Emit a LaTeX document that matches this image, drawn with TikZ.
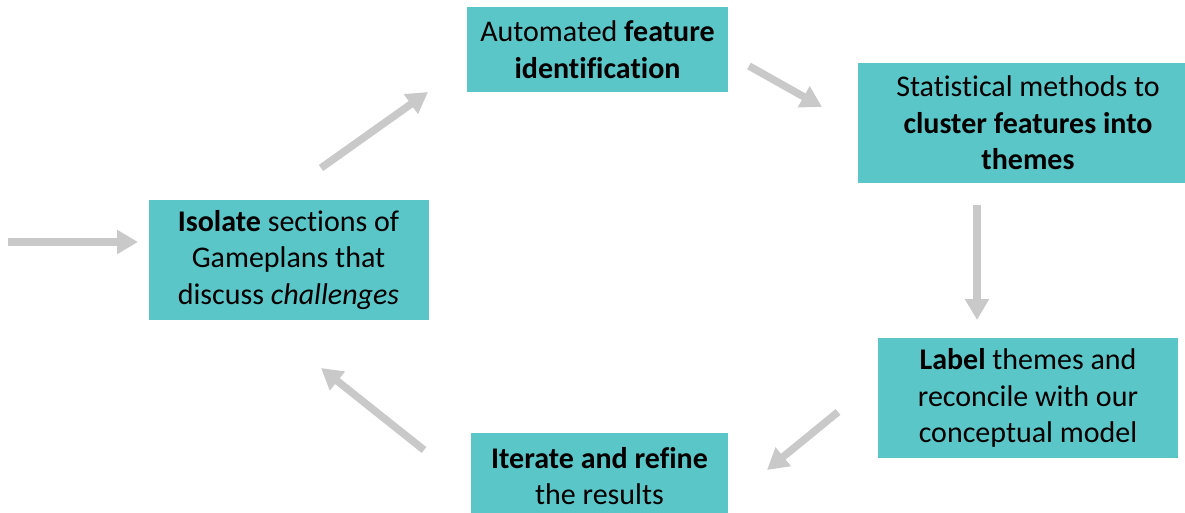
\documentclass[tikz,border=0pt]{standalone}
\usepackage{fontspec}
\setmainfont{Carlito}[Ligatures=NoCommon]
\usetikzlibrary{arrows.meta}
\definecolor{teal1}{HTML}{5BC6C8}
\definecolor{arrgray}{HTML}{C9C9C9}
\tikzset{
  box/.style={fill=teal1, draw=none, inner sep=0pt, align=center,
    font=\fontsize{30}{36.5}\selectfont, text=black},
  arr/.style={draw=arrgray, line width=7.5pt,
    -{Triangle[width=23pt,length=21pt]}}
}
\begin{document}
\begin{tikzpicture}[x=1pt,y=-1pt]
\useasboundingbox (0,0) rectangle (1185,513);
\node[box, minimum width=280pt, minimum height=120pt] (b1) at (288.5,260)
  {\textbf{Isolate} sections of\\Gameplans that\\discuss \textit{challenges}};
\node[box, minimum width=261pt, minimum height=85pt] (b2) at (597.5,49.5)
  {Automated \textbf{feature}\\\textbf{identification}};
\node[box, minimum width=340pt, minimum height=120pt] (b3) at (1028,123)
  {Statistical methods to\\\textbf{cluster features into}\\\textbf{themes}};
\node[box, minimum width=300pt, minimum height=120pt] (b4) at (1028,398)
  {\textbf{Label} themes and\\reconcile with our\\conceptual model};
\node[box, minimum width=257pt, minimum height=86pt] (b5) at (599.5,476)
  {\textbf{Iterate and refine}\\the results};
% connector end points
\coordinate (s0) at (8,242);   \coordinate (e0) at (138,242);
\coordinate (s1) at (321,168); \coordinate (e1) at (428,92);
\coordinate (s2) at (749,66);  \coordinate (e2) at (822,107);
\coordinate (s3) at (977,205); \coordinate (e3) at (977,320);
\coordinate (s4) at (838,412); \coordinate (e4) at (767,470);
\coordinate (s5) at (424,450); \coordinate (e5) at (321,368);
\draw[arr] (s0) -- (e0);
\draw[arr] (s1) -- (e1);
\draw[arr] (s2) -- (e2);
\draw[arr] (s3) -- (e3);
\draw[arr] (s4) -- (e4);
\draw[arr] (s5) -- (e5);
\end{tikzpicture}
\end{document}
